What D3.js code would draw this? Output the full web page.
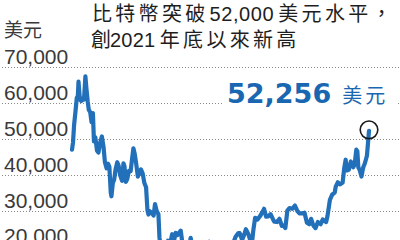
<!DOCTYPE html>
<html><head><meta charset="utf-8">
<script src="https://cdn.jsdelivr.net/npm/d3@7"></script>
<style>
html,body{margin:0;padding:0;background:#fff;}
svg{display:block;}
text{font-family:"Liberation Sans","Noto Sans CJK TC",sans-serif;}
</style></head>
<body>
<svg id="c" width="400" height="240"></svg>
<script>
const titleLine1 = ["比特幣突破", "52,000", "美元水平，"];
const titleLine2 = ["創", "2021", "年底以來新高"];
const unitLabel = "美元";
const yTicks = [20000, 30000, 40000, 50000, 60000, 70000];
const lastLabel = "52,256";
const lastUnit = "美元";

const dates = [
"2021-10-01","2021-10-04","2021-10-07","2021-10-11","2021-10-15","2021-10-18","2021-10-20","2021-10-24","2021-10-28",
"2021-11-01","2021-11-05","2021-11-09","2021-11-12","2021-11-16","2021-11-19","2021-11-23","2021-11-27",
"2021-12-01","2021-12-04","2021-12-08","2021-12-13","2021-12-17","2021-12-22","2021-12-27",
"2022-01-01","2022-01-05","2022-01-10","2022-01-14","2022-01-18","2022-01-22","2022-01-24","2022-01-28",
"2022-02-01","2022-02-05","2022-02-10","2022-02-14","2022-02-18","2022-02-24","2022-02-28",
"2022-03-03","2022-03-07","2022-03-11","2022-03-16","2022-03-21","2022-03-25","2022-03-29",
"2022-04-02","2022-04-06","2022-04-11","2022-04-15","2022-04-20","2022-04-25","2022-04-30",
"2022-05-05","2022-05-09","2022-05-12","2022-05-16","2022-05-21","2022-05-27","2022-05-31",
"2022-06-05","2022-06-10","2022-06-13","2022-06-18","2022-06-22","2022-06-26",
"2022-07-01","2022-07-08","2022-07-13","2022-07-20","2022-07-25","2022-07-30",
"2022-08-05","2022-08-10","2022-08-14","2022-08-19","2022-08-26",
"2022-09-01","2022-09-06","2022-09-12","2022-09-18","2022-09-25",
"2022-10-05","2022-10-15","2022-10-25","2022-11-05","2022-11-09","2022-11-20",
"2022-12-01","2022-12-14","2022-12-28",
"2023-01-08","2023-01-14","2023-01-21","2023-01-29","2023-02-02","2023-02-09","2023-02-16","2023-02-20","2023-02-27",
"2023-03-09","2023-03-14","2023-03-19","2023-03-26","2023-04-02","2023-04-10","2023-04-14","2023-04-20","2023-04-26",
"2023-05-03","2023-05-10","2023-05-14","2023-05-22","2023-05-29","2023-06-05","2023-06-10","2023-06-15","2023-06-21","2023-06-27",
"2023-07-05","2023-07-13","2023-07-20","2023-07-27","2023-08-03","2023-08-10","2023-08-17","2023-08-24","2023-08-29",
"2023-09-05","2023-09-11","2023-09-18","2023-09-26","2023-10-02","2023-10-12","2023-10-16","2023-10-23","2023-10-30",
"2023-11-06","2023-11-09","2023-11-15","2023-11-22","2023-11-29","2023-12-04","2023-12-08","2023-12-11","2023-12-17","2023-12-23","2023-12-30",
"2024-01-03","2024-01-08","2024-01-11","2024-01-14","2024-01-18","2024-01-23","2024-01-28",
"2024-02-02","2024-02-08","2024-02-12","2024-02-14"
];
const prices = [
47000,49100,53800,57500,61500,62000,66000,61000,60600,
61300,61000,67500,64100,60300,58100,57500,54700,
57200,49300,50500,46700,46200,48900,50700,
47700,43500,41800,43100,42200,35000,34000,37700,
38700,41500,43500,42500,40000,38300,43200,
42400,38000,38800,41100,41000,44300,47400,
45800,43200,39500,40500,41500,40400,37700,
36500,30100,28900,29800,29400,28600,31800,
29900,29000,22500,19000,20000,21000,
19300,21600,20200,23400,21300,23800,
23200,23900,24400,20900,20200,
20100,18800,22400,19400,18900,
20300,19100,20100,21300,15900,16300,
17000,17800,16600,
17100,20900,22700,23700,23700,21800,23500,24800,23500,
20400,24700,28000,27500,28400,29700,30500,28300,28400,
29000,27600,26900,26800,27700,25700,25800,25100,30000,30700,
30500,31400,29900,29200,29200,29400,26600,26200,27700,
25800,25100,26800,26200,27500,26800,28500,33000,34500,
35000,36700,37900,37300,37800,42000,44200,41200,41400,43700,42100,
42800,47000,46600,42000,41300,39500,42000,
43200,45300,49900,52256
];

const W = 400, H = 240;
const svg = d3.select("#c");
const parse = d3.timeParse("%Y-%m-%d");
const data = dates.map((d, i) => ({date: parse(d), value: prices[i]}));

const x = d3.scaleTime().domain([parse(dates[0]), parse(dates[dates.length - 1])]).range([72, 369]);
const y = d3.scaleLinear().domain([20000, 70000]).range([246.4, 67.3]);

// gridlines
svg.append("g").selectAll("line").data(yTicks).join("line")
  .attr("x1", 2).attr("x2", W)
  .attr("y1", d => Math.round(y(d)) + 0.5).attr("y2", d => Math.round(y(d)) + 0.5)
  .attr("stroke", "#8a8a8a").attr("stroke-width", 1)
  .attr("stroke-dasharray", "1,2");

// tick labels
svg.append("g").selectAll("text").data(yTicks).join("text")
  .attr("x", 4).attr("y", d => y(d) - 3)
  .attr("font-size", 21).attr("fill", "#3a3a3a")
  .text(d => d3.format(",")(d));

// unit label
svg.append("text").attr("x", 4).attr("y", 37)
  .attr("font-size", 19).attr("fill", "#3a3a3a").text(unitLabel);

// title
const t1 = svg.append("text").attr("x", 92).attr("y", 21).attr("font-size", 20).attr("fill", "#1e1e1e");
t1.append("tspan").style("letter-spacing", "3.3px").text(titleLine1[0]);
t1.append("tspan").attr("dx", 1).style("letter-spacing", "0.6px").text(titleLine1[1]);
t1.append("tspan").attr("dx", 4).style("letter-spacing", "3.3px").text(titleLine1[2]);

const t2 = svg.append("text").attr("x", 91).attr("y", 47).attr("font-size", 20).attr("fill", "#1e1e1e");
t2.append("tspan").text(titleLine2[0]);
t2.append("tspan").attr("dx", -1).style("letter-spacing", "0.2px").text(titleLine2[1]);
t2.append("tspan").attr("dx", 4.5).style("letter-spacing", "3.3px").text(titleLine2[2]);

// line
const line = d3.line().x(d => x(d.date)).y(d => y(d.value)).curve(d3.curveLinear);
svg.append("path").datum(data)
  .attr("d", line).attr("fill", "none")
  .attr("stroke", "#2270b9").attr("stroke-width", 4.2)
  .attr("stroke-linejoin", "round").attr("stroke-linecap", "round");

// last point label
const last = data[data.length - 1];
svg.append("rect").attr("x", 224).attr("y", 80).attr("width", 172).attr("height", 28).attr("fill", "#fff");
const lab = svg.append("text").attr("x", 227).attr("y", 103);
lab.append("tspan").attr("font-family", "DejaVu Sans").attr("font-weight", "bold")
  .attr("font-size", 27).attr("fill", "#1a67b1").text(lastLabel);
lab.append("tspan").attr("dx", 11).attr("font-size", 20).attr("fill", "#1a67b1")
  .style("letter-spacing", "3px").text(lastUnit);

// circle marker
svg.append("circle").attr("cx", x(last.date)).attr("cy", y(last.value) - 1)
  .attr("r", 8.8).attr("fill", "none").attr("stroke", "#1a1a1a").attr("stroke-width", 1.6);
</script>
</body></html>
